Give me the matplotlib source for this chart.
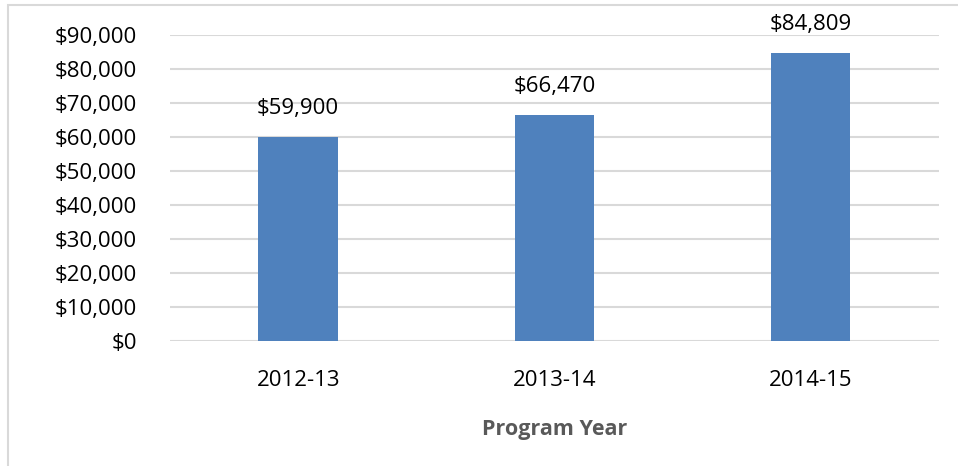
import matplotlib.pyplot as plt
from matplotlib.patches import Rectangle
from matplotlib.ticker import FuncFormatter

years = ["2012-13", "2013-14", "2014-15"]
amounts = [59900, 66470, 84809]
y_ticks = [0, 10000, 20000, 30000, 40000, 50000, 60000, 70000, 80000, 90000]

plt.rcParams['font.family'] = ['Open Sans', 'DejaVu Sans']

fig = plt.figure(figsize=(9.58, 4.66), dpi=100)
ax = fig.add_axes([0.1775, 0.2682, 0.8025, 0.6567])

x = range(len(years))
ax.bar(x, amounts, width=0.31, color="#4F81BD", zorder=3)

for xi, v in zip(x, amounts):
    ax.annotate(f"${v:,}", (xi, v), xytext=(0, 13), textcoords="offset points",
                ha="center", va="bottom", fontsize=16, color="#000000",
                annotation_clip=False)

ax.set_xlim(-0.5, 2.5)
ax.set_ylim(0, 90000)
ax.set_yticks(y_ticks)
ax.yaxis.set_major_formatter(FuncFormatter(lambda v, p: f"${int(v):,}"))
ax.set_xticks(list(x))
ax.set_xticklabels(years)
ax.tick_params(axis="both", length=0, labelsize=16, colors="#000000")
ax.tick_params(axis="y", pad=24)
ax.tick_params(axis="x", pad=21)
ax.grid(axis="y", color="#D9D9D9", linewidth=1.5, zorder=0)
for s in ax.spines.values():
    s.set_visible(False)

ax.set_xlabel("Program Year", fontsize=15.5, fontweight="bold", color="#595959", labelpad=20)

# outer chart border (left and top edges visible)
fig.patches.append(Rectangle((8 / 958, -0.05), 1.0, 1 - 5 / 466 + 0.05,
                             transform=fig.transFigure, fill=False,
                             edgecolor="#D9D9D9", linewidth=1.5))

fig.savefig("out.png", dpi=100)
